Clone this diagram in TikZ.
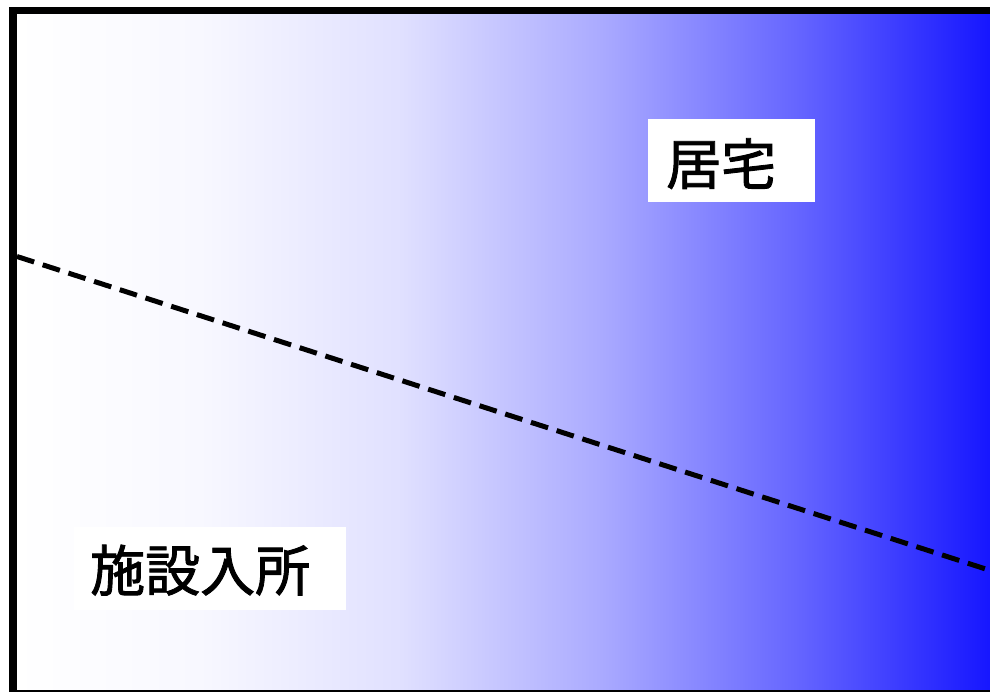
\documentclass[tikz,border=0pt]{standalone}
\usepackage{fontspec}
\newfontfamily\cjk[FakeBold=1.6]{Noto Sans CJK JP}
\usetikzlibrary{positioning, calc}

\definecolor{deepblue}{RGB}{20,20,255}
\pgfdeclarehorizontalshading{careshade}{100bp}{%
  color(0bp)=(white); color(25bp)=(white);
  color(34.5bp)=(white!97!deepblue); color(44.7bp)=(white!87!deepblue);
  color(54.9bp)=(white!64!deepblue); color(65.1bp)=(white!34!deepblue);
  color(75bp)=(deepblue); color(100bp)=(deepblue)}

\begin{document}
\begin{tikzpicture}[
    x=1pt, y=-1pt,
    labelbox/.style={
        rectangle, fill=white, draw=none,
        minimum height=83pt, inner sep=0pt},
    labeltext/.style={
        anchor=base west, inner sep=0pt,
        font=\cjk\fontsize{55}{60}\selectfont},
    divider/.style={
        line width=5pt, dash pattern=on 18pt off 9pt, color=black}]

\useasboundingbox (0,0) rectangle (990,691);

% background panel
\fill[shading=careshade] (13,10.5) rectangle (995,694);
\draw[line width=7.5pt] (13,10.5) rectangle (995,694);

% dividing line
\coordinate (divL) at (17,256.5);
\coordinate (divR) at (995,572);
\draw[divider] (divL) -- (divR);

% labels
\node[labelbox, minimum width=167pt] (homebox)  at (731.5,160.5) {};
\node[labelbox, minimum width=272pt] (facilbox) at (210,568.5)   {};

\node[labeltext] (hometext)  at (666,184.5) {居宅};
\node[labeltext] (faciltext) at (90,591)    {施設入所};

\end{tikzpicture}
\end{document}
